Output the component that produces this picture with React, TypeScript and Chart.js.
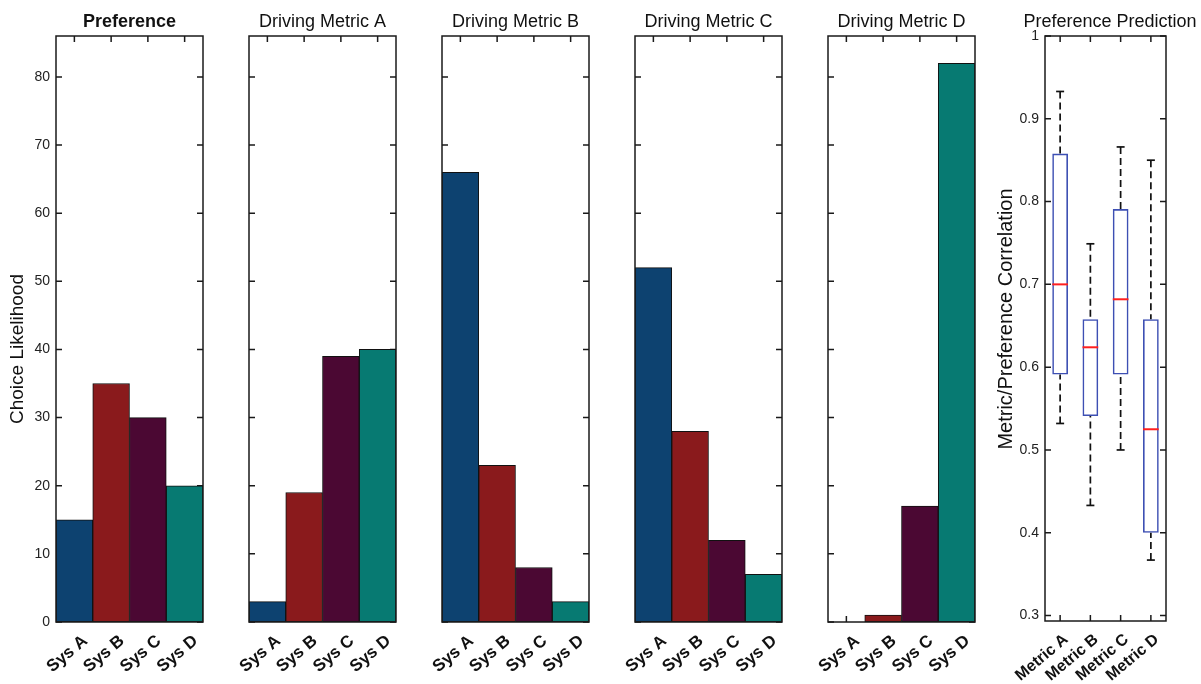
import React, { useEffect, useRef } from 'react';
import { Chart, registerables } from 'chart.js';

Chart.register(...registerables);

const FONT = "'Liberation Sans', Arial, Helvetica, sans-serif";

// ---------- data ----------
const systems = ['Sys A', 'Sys B', 'Sys C', 'Sys D'];
const sysColors = ['#0d4270', '#8a1a1c', '#4b0833', '#077a72'];

const preference = [15, 35, 30, 20];
const drivingMetricA = [3, 19, 39, 40];
const drivingMetricB = [66, 23, 8, 3];
const drivingMetricC = [52, 28, 12, 7];
const drivingMetricD = [0, 1, 17, 82];

const barTitles = ['Preference', 'Driving Metric A', 'Driving Metric B', 'Driving Metric C', 'Driving Metric D'];
const barSeries = [preference, drivingMetricA, drivingMetricB, drivingMetricC, drivingMetricD];
const barYMax = 86;
const barYStep = 10;

const metrics = ['Metric A', 'Metric B', 'Metric C', 'Metric D'];
const whiskerHigh = [0.933, 0.749, 0.866, 0.85];
const boxHigh = [0.858, 0.658, 0.791, 0.658];
const medians = [0.7, 0.624, 0.682, 0.525];
const boxLow = [0.591, 0.541, 0.591, 0.4];
const whiskerLow = [0.532, 0.433, 0.5, 0.367];
const corrMin = 0.2934;
const corrMax = 1.0;
const corrStep = 0.1;

// ---------- layout ----------
const H = 684;
const PLOT_W = 147;
const barLefts = [56, 249, 442, 635, 828];
const RP = 20;

type TextSpec = {
  title: string;
  bold: boolean;
  titleDx: number;
  yTitle?: string;
  yTitleSize?: number;
  yTitleX?: number; // canvas coords
  yTitleY?: number;
};

function makeTextPlugin(spec: TextSpec) {
  return {
    id: 'panelText',
    afterDraw(chart: any) {
      const { ctx, chartArea } = chart;
      ctx.save();
      ctx.fillStyle = '#111';
      ctx.textAlign = 'center';
      ctx.textBaseline = 'alphabetic';
      ctx.font = `${spec.bold ? 'bold ' : ''}18px ${FONT}`;
      ctx.fillText(spec.title, (chartArea.left + chartArea.right) / 2 + spec.titleDx, 27);
      if (spec.yTitle) {
        ctx.translate(spec.yTitleX as number, spec.yTitleY as number);
        ctx.rotate(-Math.PI / 2);
        ctx.textBaseline = 'middle';
        ctx.font = `${spec.yTitleSize}px ${FONT}`;
        ctx.fillText(spec.yTitle, 0, 0);
      }
      ctx.restore();
    },
  };
}

const framePlugin = {
  id: 'frameTicks',
  beforeDatasetsDraw(chart: any) {
    const { ctx, chartArea, scales } = chart;
    const { left, right, top, bottom } = chartArea;
    const x = scales.x;
    const y = scales.y;
    ctx.save();
    ctx.strokeStyle = '#1a1a1a';
    ctx.lineWidth = 1.5;
    ctx.beginPath();
    y.ticks.forEach((t: any) => {
      const py = y.getPixelForValue(t.value);
      ctx.moveTo(left, py);
      ctx.lineTo(left + 6, py);
      ctx.moveTo(right - 6, py);
      ctx.lineTo(right, py);
    });
    x.ticks.forEach((_t: any, i: number) => {
      const px = x.getPixelForTick(i);
      ctx.moveTo(px, top);
      ctx.lineTo(px, top + 6);
      ctx.moveTo(px, bottom - 6);
      ctx.lineTo(px, bottom);
    });
    ctx.stroke();
    ctx.restore();
  },
  afterDatasetsDraw(chart: any) {
    const { ctx, chartArea } = chart;
    const { left, right, top, bottom } = chartArea;
    ctx.save();
    ctx.strokeStyle = '#1a1a1a';
    ctx.lineWidth = 1.5;
    ctx.strokeRect(left, top, right - left, bottom - top);
    ctx.restore();
  },
};

const boxPlugin = {
  id: 'boxWhiskers',
  afterDatasetsDraw(chart: any) {
    const { ctx, scales } = chart;
    const y = scales.y;
    const meta = chart.getDatasetMeta(0);
    const line = (x1: number, y1: number, x2: number, y2: number) => {
      ctx.beginPath();
      ctx.moveTo(x1, y1);
      ctx.lineTo(x2, y2);
      ctx.stroke();
    };
    ctx.save();
    meta.data.forEach((bar: any, i: number) => {
      const px = bar.x;
      const half = bar.width / 2;
      const yWH = y.getPixelForValue(whiskerHigh[i]);
      const yBH = y.getPixelForValue(boxHigh[i]);
      const yBL = y.getPixelForValue(boxLow[i]);
      const yWL = y.getPixelForValue(whiskerLow[i]);
      const yMed = y.getPixelForValue(medians[i]);
      ctx.strokeStyle = '#111';
      ctx.lineWidth = 1.7;
      ctx.setLineDash([7, 4]);
      line(px, yWH, px, yBH);
      line(px, yWL, px, yBL);
      ctx.setLineDash([]);
      line(px - 4, yWH, px + 4, yWH);
      line(px - 4, yWL, px + 4, yWL);
      ctx.strokeStyle = '#ff1f1f';
      ctx.lineWidth = 2;
      line(px - half, yMed, px + half, yMed);
    });
    ctx.restore();
  },
};

function barConfig(idx: number, yw: number, canvasLeft: number): any {
  const first = idx === 0;
  const spec: TextSpec = {
    title: barTitles[idx],
    bold: first,
    titleDx: 0,
  };
  if (first) {
    spec.yTitle = 'Choice Likelihood';
    spec.yTitleSize = 19;
    spec.yTitleX = 18 - canvasLeft;
    spec.yTitleY = 349;
  }
  return {
    type: 'bar',
    data: {
      labels: systems,
      datasets: [
        {
          data: barSeries[idx],
          backgroundColor: sysColors,
          borderColor: '#111',
          borderWidth: 1,
          borderSkipped: false,
          barPercentage: 1,
          categoryPercentage: 1,
        },
      ],
    },
    options: {
      responsive: false,
      animation: false,
      layout: { padding: { left: 0, right: RP, top: 36, bottom: 0 } },
      plugins: {
        legend: { display: false },
        tooltip: { enabled: false },
        title: { display: false },
      },
      scales: {
        x: {
          grid: { display: false, drawTicks: false },
          border: { display: false },
          ticks: {
            color: '#111',
            font: { family: FONT, size: 17, weight: 'bold' },
            minRotation: 40,
            maxRotation: 40,
            padding: 9,
            labelOffset: 11,
            autoSkip: false,
          },
          afterFit: (s: any) => {
            s.height = 62;
          },
        },
        y: {
          min: 0,
          max: barYMax,
          grid: { display: false, drawTicks: false },
          border: { display: false },
          ticks: {
            display: first,
            stepSize: barYStep,
            includeBounds: false,
            color: '#222',
            font: { family: FONT, size: 14 },
            padding: 6,
          },
          afterFit: (s: any) => {
            s.width = yw;
          },
        },
      },
    },
    plugins: [framePlugin, makeTextPlugin(spec)],
  };
}

function boxConfig(yw: number, rp: number, canvasLeft: number): any {
  const spec: TextSpec = {
    title: 'Preference Prediction',
    bold: false,
    titleDx: 4.5,
    yTitle: 'Metric/Preference Correlation',
    yTitleSize: 20,
    yTitleX: 1006 - canvasLeft,
    yTitleY: 319,
  };
  return {
    type: 'bar',
    data: {
      labels: metrics,
      datasets: [
        {
          data: boxLow.map((lo, i) => [lo, boxHigh[i]]),
          backgroundColor: 'rgba(255,255,255,0)',
          borderColor: '#3d4fb3',
          borderWidth: 1.6,
          borderSkipped: false,
          barPercentage: 0.52,
          categoryPercentage: 1,
        },
      ],
    },
    options: {
      responsive: false,
      animation: false,
      layout: { padding: { left: 0, right: rp, top: 36, bottom: 0 } },
      plugins: {
        legend: { display: false },
        tooltip: { enabled: false },
        title: { display: false },
      },
      scales: {
        x: {
          grid: { display: false, drawTicks: false },
          border: { display: false },
          ticks: {
            color: '#111',
            font: { family: FONT, size: 16, weight: 'bold' },
            minRotation: 40,
            maxRotation: 40,
            padding: 9,
            labelOffset: 6,
            autoSkip: false,
          },
          afterFit: (s: any) => {
            s.height = 63;
          },
        },
        y: {
          min: corrMin,
          max: corrMax,
          grid: { display: false, drawTicks: false },
          border: { display: false },
          ticks: {
            stepSize: corrStep,
            includeBounds: false,
            color: '#222',
            font: { family: FONT, size: 14 },
            padding: 6,
            callback: (v: number) => String(Math.round(v * 10) / 10),
          },
          afterFit: (s: any) => {
            s.width = yw;
          },
        },
      },
    },
    plugins: [framePlugin, boxPlugin, makeTextPlugin(spec)],
  };
}

type Panel = { left: number; width: number; config: any };

function buildPanels(): Panel[] {
  const panels: Panel[] = barLefts.map((L, i) => {
    const yw = i === 0 ? 56 : 40;
    const left = L - yw;
    return { left, width: yw + PLOT_W + RP, config: barConfig(i, yw, left) };
  });
  const boxLeft = 1045;
  const boxRight = 1166;
  const yw = 60;
  const rp = 1201 - boxRight;
  const left = boxLeft - yw;
  panels.push({ left, width: yw + (boxRight - boxLeft) + rp, config: boxConfig(yw, rp, left) });
  return panels;
}

const panels = buildPanels();

export default function App() {
  const refs = useRef<(HTMLCanvasElement | null)[]>([]);
  useEffect(() => {
    const charts = panels.map((p, i) => new Chart(refs.current[i] as HTMLCanvasElement, p.config));
    return () => charts.forEach((c) => c.destroy());
  }, []);
  return (
    <div style={{ position: 'absolute', left: 0, top: 0, width: 1201, height: H, background: '#fff', overflow: 'hidden' }}>
      {panels.map((p, i) => (
        <canvas
          key={i}
          ref={(el) => {
            refs.current[i] = el;
          }}
          width={p.width}
          height={H}
          style={{ position: 'absolute', left: p.left, top: 0 }}
        />
      ))}
    </div>
  );
}
